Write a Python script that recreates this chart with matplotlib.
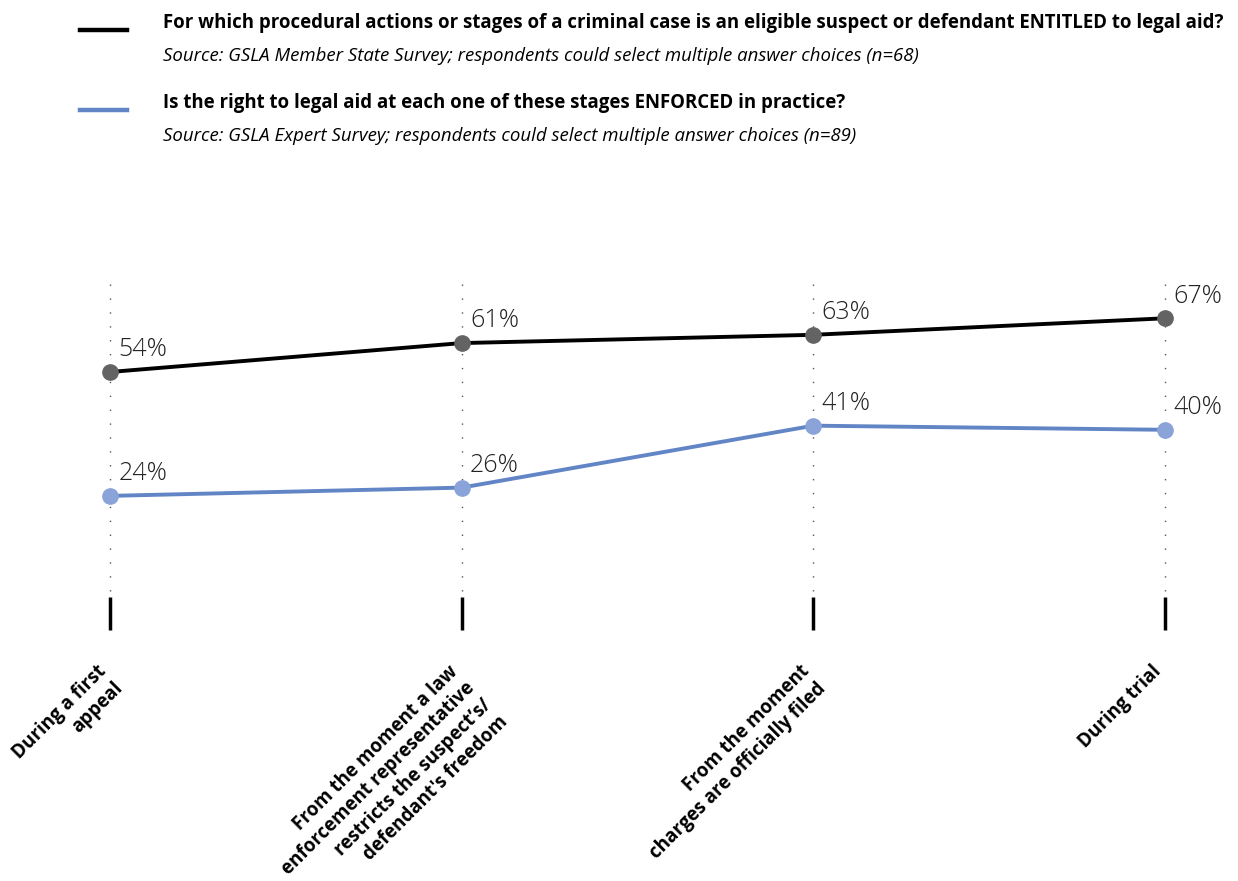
import matplotlib
matplotlib.use("Agg")
import matplotlib.pyplot as plt

categories = [
    "During a first\nappeal",
    "From the moment a law\nenforcement representative\nrestricts the suspect\u2019s/\ndefendant's freedom",
    "From the moment\ncharges are officially filed",
    "During trial",
]
entitled = [54, 61, 63, 67]
enforced = [24, 26, 41, 40]
series_titles = [
    "For which procedural actions or stages of a criminal case is an eligible suspect or defendant ENTITLED to legal aid?",
    "Is the right to legal aid at each one of these stages ENFORCED in practice?",
]
series_sources = [
    "Source: GSLA Member State Survey; respondents could select multiple answer choices (n=68)",
    "Source: GSLA Expert Survey; respondents could select multiple answer choices (n=89)",
]

W, H = 1238, 881
fig = plt.figure(figsize=(W / 100, H / 100), dpi=100)
FONT = "Open Sans"
plt.rcParams["font.family"] = [FONT, "DejaVu Sans"]

px_per_pct = 4.13
x0, x1 = 110, 1165
y_zero, y_top = 595, 275
ax = fig.add_axes([x0 / W, (H - y_zero) / H, (x1 - x0) / W, (y_zero - y_top) / H])
ax.set_xlim(0, len(categories) - 1)
ax.set_ylim(0, (y_zero - y_top) / px_per_pct)
ax.axis("off")

xs = list(range(len(categories)))
top = (y_zero - y_top) / px_per_pct
# dotted guides
ax.vlines(xs, 1, top, colors="#555555", linestyles=(0, (1, 9)), lw=1.0, clip_on=False)
# ticks
ax.vlines(xs, -0.5, -8.5, colors="black", lw=2.5, clip_on=False)

black_line = "#000000"
black_marker = "#636363"
blue_line = "#6285c6"
blue_marker = "#8aa3d9"

ax.plot(xs, entitled, color=black_line, lw=2.8, zorder=3, clip_on=False)
ax.plot(xs, entitled, "o", color=black_marker, ms=11, zorder=4, clip_on=False)
ax.plot(xs, enforced, color=blue_line, lw=2.8, zorder=3, clip_on=False)
ax.plot(xs, enforced, "o", color=blue_marker, ms=11, zorder=4, clip_on=False)

for vals in (entitled, enforced):
    for x, v in zip(xs, vals):
        ax.annotate(f"{v}%", (x, v), xytext=(6, 7), textcoords="offset points",
                    ha="left", va="bottom", fontsize=18, fontweight="light",
                    color="#222222", family=[FONT, "DejaVu Sans"])

# category labels
for x, lab in zip(xs, categories):
    ax.annotate(lab, (x, 0), xytext=(-10, -48), textcoords="offset points",
                rotation=45, rotation_mode="anchor", ha="right", va="top",
                multialignment="right", fontsize=13.5, fontweight="bold",
                color="black", linespacing=1.25, annotation_clip=False,
                family=[FONT, "DejaVu Sans"])

# legend-like header
for i, (t, s, c) in enumerate(zip(series_titles, series_sources, [black_line, blue_line])):
    yl = 30 + i * 80
    fig.add_artist(plt.Line2D([80 / W, 127 / W], [(H - yl) / H] * 2, color=c, lw=3.2))
    fig.text(163 / W, (H - (yl - 7)) / H, t, fontsize=13.4, fontweight="bold",
             ha="left", va="center", color="black")
    fig.text(163 / W, (H - (yl + 26)) / H, s, fontsize=13.4, style="italic",
             ha="left", va="center", color="black")

fig.savefig("out.png", dpi=100)
